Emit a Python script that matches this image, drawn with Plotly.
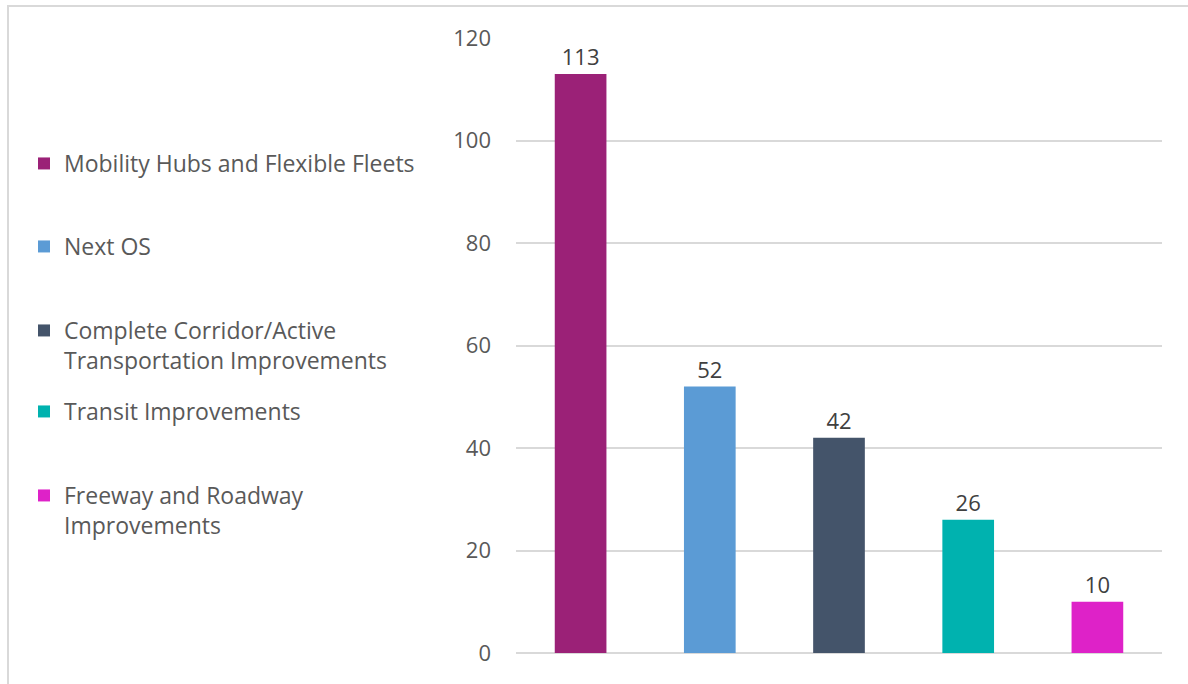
import plotly.graph_objects as go

categories = [
    "Mobility Hubs and Flexible Fleets",
    "Next OS",
    "Complete Corridor/Active<br>Transportation Improvements",
    "Transit Improvements",
    "Freeway and Roadway<br>Improvements",
]
values = [113, 52, 42, 26, 10]
colors = ["#9B2177", "#5B9BD5", "#44546A", "#00B2AF", "#DE22C8"]

# pixel geometry of the plot area
L, R, T, B = 516, 1162, 38, 653
W, H = 1188, 684


def px_x(p):
    return (p - L) / (R - L)


def px_y(p):
    return (B - p) / (B - T)


# legend first-line centres (px)
legend_y = [163, 246, 330, 411, 495]

fig = go.Figure()
for i, (name, val, col) in enumerate(zip(categories, values, colors)):
    lg = "legend" if i == 0 else f"legend{i + 1}"
    fig.add_trace(
        go.Bar(
            x=[name],
            y=[val],
            name=name,
            marker=dict(color=col, line=dict(width=0)),
            text=[val],
            textposition="outside",
            textfont=dict(color="#404040", size=22),
            cliponaxis=False,
            width=0.4,
            legend=lg,
            showlegend=True,
        )
    )

legend_font = dict(family="Open Sans, sans-serif", size=23, color="#595959")
legends = {}
for i, yp in enumerate(legend_y):
    key = "legend" if i == 0 else f"legend{i + 1}"
    legends[key] = dict(
        x=px_x(24),
        y=px_y(yp - 21),
        xanchor="left",
        yanchor="top",
        valign="top",
        font=legend_font,
        bgcolor="rgba(0,0,0,0)",
        itemclick=False,
    )

fig.update_layout(
    width=W,
    height=H,
    margin=dict(l=L, r=W - R, t=T, b=H - B),
    plot_bgcolor="white",
    paper_bgcolor="white",
    font=dict(family="Open Sans, sans-serif", color="#595959"),
    showlegend=True,
    bargap=0.6,
    **legends,
)
fig.update_xaxes(
    type="category",
    showticklabels=False,
    showgrid=False,
    showline=False,
    zeroline=False,
)
fig.update_yaxes(
    range=[0, 120],
    dtick=20,
    showgrid=True,
    gridcolor="#D9D9D9",
    gridwidth=1.5,
    zeroline=True,
    zerolinecolor="#D9D9D9",
    zerolinewidth=1.5,
    tickfont=dict(size=22, color="#595959"),
    ticklabelstandoff=24,
)

# outer chart border
fig.add_shape(
    type="rect",
    xref="paper",
    yref="paper",
    x0=px_x(8),
    x1=px_x(W + 5),
    y0=px_y(H + 5),
    y1=px_y(6),
    line=dict(color="#D9D9D9", width=2),
    fillcolor="rgba(0,0,0,0)",
    layer="below",
)

fig.write_html(
    "out.html",
    config={"displayModeBar": False},
    post_script="document.body.style.margin='0';document.body.style.overflow='hidden';",
)
